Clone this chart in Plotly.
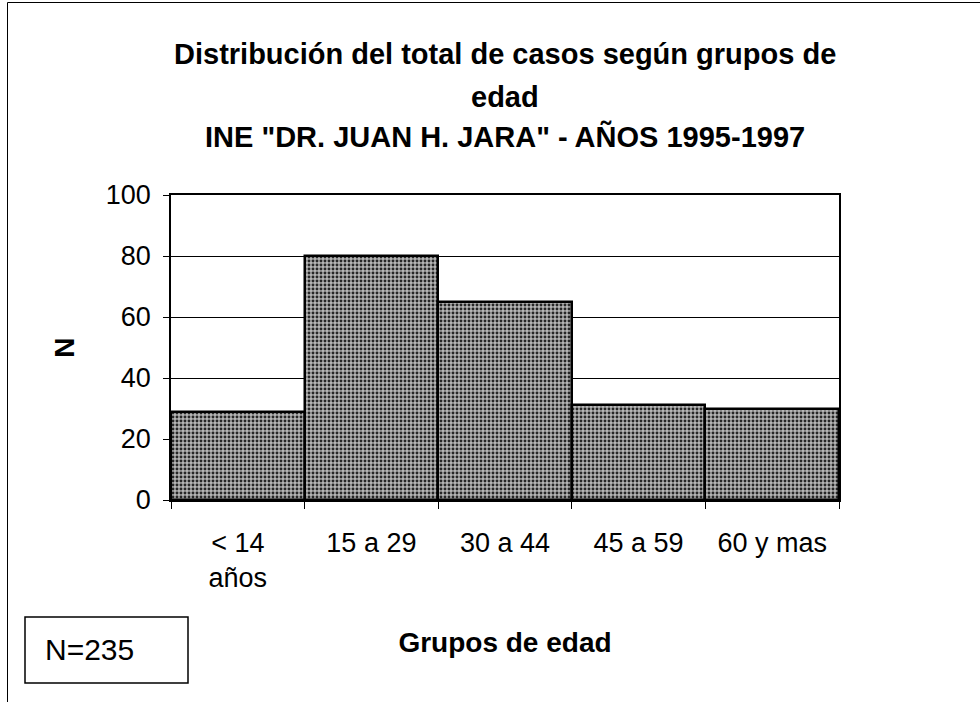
import plotly.graph_objects as go

# ---- data ----
categories = ["< 14<br>años", "15 a 29", "30 a 44", "45 a 59", "60 y mas"]
cases = [29, 80, 65, 31, 30]
y_ticks = [0, 20, 40, 60, 80, 100]
title_lines = [
    "Distribución del total de casos según grupos de",
    "edad",
    'INE "DR. JUAN H. JARA" - AÑOS 1995-1997',
]
x_title = "Grupos de edad"
y_title = "N"
total_label = "N=235"

# ---- layout geometry (pixels) ----
W, H = 980, 702
L, R, T, B = 171, 839, 195, 500
FONT = "Liberation Sans, Arial, sans-serif"


def px(x):
    return (x - L) / (R - L)


def py(y):
    return (B - y) / (B - T)


fig = go.Figure(
    go.Bar(
        x=categories,
        y=cases,
        width=1,
        marker=dict(
            color="#9a9a9a",
            line=dict(color="black", width=2.5),
            pattern=dict(shape=".", fgcolor="#262626", bgcolor="#b5b5b5",
                         size=4, solidity=0.42, fillmode="replace"),
        ),
        hoverinfo="x+y",
    )
)

annotations = []
title_y = [54, 97, 137]
for line, yy in zip(title_lines, title_y):
    annotations.append(dict(
        text=f"<b>{line}</b>", x=0.5, y=py(yy), xref="paper", yref="paper",
        xanchor="center", yanchor="middle", showarrow=False,
        font=dict(family=FONT, size=29, color="black"),
    ))
annotations.append(dict(
    text=total_label, x=px(43), y=py(649), xref="paper", yref="paper",
    xanchor="left", yanchor="middle", showarrow=False,
    font=dict(family=FONT, size=30, color="black"),
))

shapes = [
    # outer chart frame (top and left edges visible)
    dict(type="line", xref="paper", yref="paper", x0=px(7.5), x1=px(990),
         y0=py(2.5), y1=py(2.5), line=dict(color="black", width=1)),
    dict(type="line", xref="paper", yref="paper", x0=px(7.5), x1=px(7.5),
         y0=py(2.5), y1=py(710), line=dict(color="black", width=1)),
    # N box
    dict(type="rect", xref="paper", yref="paper", x0=px(25), x1=px(188),
         y0=py(617), y1=py(683), line=dict(color="black", width=1.5)),
]

fig.update_layout(
    width=W, height=H,
    margin=dict(l=L, r=W - R, t=T, b=H - B, autoexpand=False),
    paper_bgcolor="white", plot_bgcolor="white",
    bargap=0, showlegend=False,
    font=dict(family=FONT, color="black"),
    annotations=annotations, shapes=shapes,
)
fig.update_xaxes(
    type="category", tickson="boundaries", ticks="outside", ticklen=7,
    tickcolor="black", tickwidth=1, showline=True, linecolor="black",
    linewidth=1.5, mirror=True, showgrid=False, zeroline=False,
    tickfont=dict(family=FONT, size=27), ticklabelstandoff=18,
    title=dict(text=f"<b>{x_title}</b>", font=dict(family=FONT, size=28),
               standoff=40),
)
fig.update_yaxes(
    range=[0, 100], tickvals=y_ticks, ticks="outside", ticklen=6,
    tickcolor="black", tickwidth=1, showline=True, linecolor="black",
    linewidth=1.5, mirror=True, showgrid=True, gridcolor="black",
    gridwidth=1, zeroline=False,
    tickfont=dict(family=FONT, size=27), ticklabelstandoff=7,
    title=dict(text=f"<b>{y_title}</b>", font=dict(family=FONT, size=28),
               standoff=23),
)

fig.write_html(
    "out.html",
    config={"displayModeBar": False},
    post_script="document.body.style.margin='0';",
)
